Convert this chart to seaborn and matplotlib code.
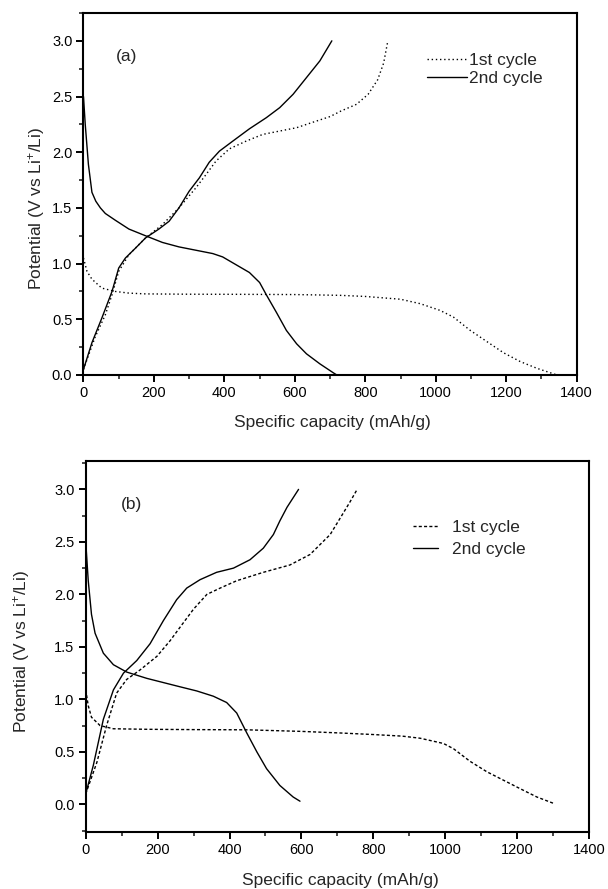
import numpy as np
import pandas as pd
import matplotlib
matplotlib.use("Agg")
import matplotlib.pyplot as plt
from matplotlib.ticker import MultipleLocator
import seaborn as sns

# ---------------- data ----------------
# Panel (a)
a1_dis_x = [0, 10, 24, 52, 90, 129, 176, 300, 450, 600, 728, 800, 900, 956, 1012, 1050, 1098, 1145, 1192, 1240, 1287, 1344]
a1_dis_y = [1.05, 0.93, 0.86, 0.78, 0.75, 0.735, 0.728, 0.725, 0.724, 0.722, 0.715, 0.705, 0.68, 0.64, 0.58, 0.52, 0.40, 0.30, 0.20, 0.12, 0.06, 0.0]
a1_chg_x = [0, 33, 62, 81, 100, 129, 176, 224, 271, 319, 348, 376, 414, 462, 509, 557, 605, 652, 700, 731, 775, 808, 835, 852, 864]
a1_chg_y = [0.05, 0.34, 0.54, 0.72, 0.93, 1.08, 1.23, 1.35, 1.50, 1.68, 1.80, 1.92, 2.03, 2.10, 2.16, 2.19, 2.22, 2.27, 2.32, 2.37, 2.43, 2.52, 2.65, 2.80, 3.0]
a2_dis_x = [0, 5, 14, 24, 35, 48, 62, 90, 129, 176, 224, 271, 319, 367, 395, 433, 471, 500, 519, 548, 576, 605, 633, 671, 709, 719]
a2_dis_y = [2.5, 2.25, 1.89, 1.64, 1.56, 1.50, 1.45, 1.39, 1.31, 1.25, 1.19, 1.15, 1.12, 1.09, 1.06, 0.99, 0.92, 0.83, 0.72, 0.56, 0.40, 0.28, 0.19, 0.10, 0.02, 0.0]
a2_chg_x = [0, 24, 52, 81, 100, 119, 148, 176, 214, 243, 271, 300, 329, 357, 386, 424, 471, 519, 557, 595, 633, 671, 705]
a2_chg_y = [0.05, 0.29, 0.51, 0.75, 0.96, 1.05, 1.14, 1.23, 1.31, 1.38, 1.50, 1.65, 1.77, 1.91, 2.01, 2.10, 2.21, 2.31, 2.40, 2.52, 2.67, 2.82, 3.0]

# Panel (b)
b1_dis_x = [0, 7, 16, 40, 77, 170, 300, 448, 600, 707, 800, 880, 930, 995, 1023, 1069, 1116, 1162, 1208, 1255, 1301]
b1_dis_y = [1.09, 0.94, 0.83, 0.75, 0.72, 0.715, 0.712, 0.71, 0.695, 0.68, 0.665, 0.65, 0.63, 0.58, 0.53, 0.41, 0.31, 0.23, 0.15, 0.07, 0.01]
b1_chg_x = [0, 31, 58, 86, 114, 151, 198, 235, 263, 300, 337, 374, 420, 494, 568, 624, 680, 712, 735, 755]
b1_chg_y = [0.10, 0.40, 0.75, 1.06, 1.19, 1.28, 1.41, 1.56, 1.69, 1.86, 2.00, 2.06, 2.13, 2.21, 2.28, 2.38, 2.57, 2.75, 2.88, 3.0]
b2_dis_x = [0, 7, 16, 26, 49, 77, 114, 170, 216, 262, 309, 355, 392, 420, 448, 476, 503, 540, 577, 596]
b2_dis_y = [2.5, 2.13, 1.81, 1.63, 1.44, 1.33, 1.26, 1.20, 1.16, 1.12, 1.08, 1.03, 0.97, 0.87, 0.68, 0.50, 0.34, 0.18, 0.07, 0.03]
b2_chg_x = [0, 21, 49, 77, 105, 142, 179, 216, 253, 281, 318, 364, 411, 457, 494, 522, 540, 560, 592]
b2_chg_y = [0.10, 0.37, 0.81, 1.09, 1.25, 1.37, 1.53, 1.75, 1.95, 2.06, 2.14, 2.21, 2.25, 2.33, 2.44, 2.57, 2.70, 2.83, 3.0]

x_ticks = [0, 200, 400, 600, 800, 1000, 1200, 1400]
y_ticks = [0.0, 0.5, 1.0, 1.5, 2.0, 2.5, 3.0]
series_labels = ["1st cycle", "2nd cycle"]
panel_labels = ["(a)", "(b)"]

# ---------------- style ----------------
sns.set_theme(style="ticks")
plt.rcParams["font.family"] = ["Liberation Sans", "DejaVu Sans"]
plt.rcParams["mathtext.fontset"] = "custom"
plt.rcParams["mathtext.rm"] = "Liberation Sans"
plt.rcParams["mathtext.it"] = "Liberation Sans:italic"

fig = plt.figure(figsize=(6.08, 8.89), dpi=100)
ax_a = fig.add_axes([0.1373, 0.5782, 0.8112, 0.4072])
ax_b = fig.add_axes([0.1410, 0.0645, 0.8278, 0.4169])


def draw(ax, curves, ylim, label, label_xy, ylab_xy, leg):
    for (x, y), name, ls in curves:
        sns.lineplot(x=x, y=y, ax=ax, sort=False, estimator=None,
                     color="black", linewidth=1.0, linestyle=ls, label=name)
    ax.set_xlim(0, 1400)
    ax.set_ylim(*ylim)
    ax.set_xticks(x_ticks)
    ax.set_yticks(y_ticks)
    ax.set_xticklabels([str(v) for v in x_ticks])
    ax.set_yticklabels([f"{v:.1f}" for v in y_ticks])
    ax.xaxis.set_minor_locator(MultipleLocator(100))
    ax.yaxis.set_minor_locator(MultipleLocator(0.25))
    ax.tick_params(which="major", direction="out", length=5, width=1.4,
                   labelsize=10.5, color="black", labelcolor="black", pad=3,
                   top=False, right=False)
    ax.tick_params(which="minor", direction="out", length=3, width=1.2,
                   top=False, right=False)
    for s in ax.spines.values():
        s.set_visible(True)
        s.set_linewidth(1.5)
        s.set_color("black")
    ax.set_xlabel("Specific capacity (mAh/g)", fontsize=12.5, va="top")
    ax.xaxis.set_label_coords(0.505, -0.111)
    ax.set_ylabel(r"Potential (V vs Li$^{+}$/Li)", fontsize=12.5)
    ax.yaxis.set_label_coords(ylab_xy[0], ylab_xy[1])
    ax.text(label_xy[0], label_xy[1], label, fontsize=12.5, ha="center", va="center")
    handles, labels = ax.get_legend_handles_labels()
    seen = {}
    for h, l in zip(handles, labels):
        if l and not l.startswith("_") and l not in seen:
            seen[l] = h
    ax.legend(list(seen.values()), list(seen.keys()), frameon=False,
              loc="upper left", bbox_to_anchor=leg["anchor"], fontsize=12.5,
              handlelength=leg["hl"], handletextpad=leg["pad"],
              labelspacing=leg["ls"], borderpad=0, borderaxespad=0)


dot_a = (0, (1, 2))
dot_b = (0, (2.2, 1.6))
draw(ax_a,
     [((a1_dis_x, a1_dis_y), series_labels[0], dot_a),
      ((a1_chg_x, a1_chg_y), "_a1c", dot_a),
      ((a2_dis_x, a2_dis_y), series_labels[1], "-"),
      ((a2_chg_x, a2_chg_y), "_a2c", "-")],
     (0, 3.25), panel_labels[0], (122, 2.86), (-0.074, 0.461),
     {"anchor": (0.697, 0.89), "hl": 2.3, "pad": 0.1, "ls": 0.15})
draw(ax_b,
     [((b1_dis_x, b1_dis_y), series_labels[0], dot_b),
      ((b1_chg_x, b1_chg_y), "_b1c", dot_b),
      ((b2_dis_x, b2_dis_y), series_labels[1], "-"),
      ((b2_chg_x, b2_chg_y), "_b2c", "-")],
     (-0.26, 3.27), panel_labels[1], (126, 2.86), (-0.107, 0.486),
     {"anchor": (0.650, 0.842), "hl": 1.45, "pad": 0.8, "ls": 0.4})

fig.savefig("out.png", dpi=100)
